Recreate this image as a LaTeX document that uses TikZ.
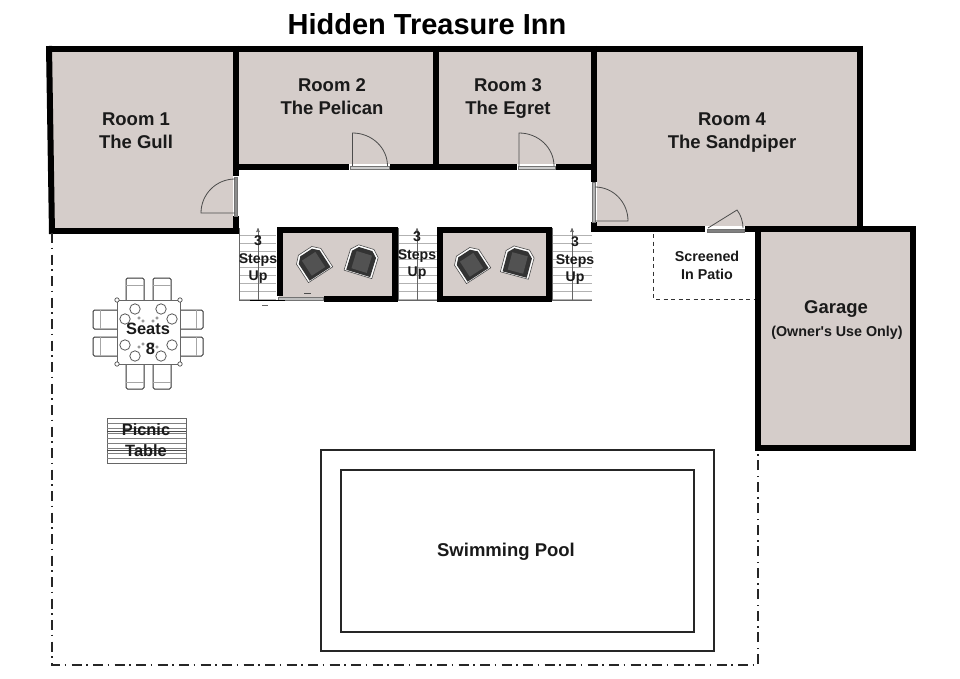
\documentclass[tikz,border=0pt]{standalone}
\usepackage{fontspec}
\setmainfont{Liberation Sans}[Ligatures=TeXOff]
\usetikzlibrary{arrows}
\definecolor{floor}{HTML}{D5CDCA}
\definecolor{ink}{HTML}{1A1A1A}
\tikzset{
    wall/.style={
           draw=black,
           line width=6pt,
           line cap=butt,
           line join=miter
           },
    sill/.style={
           draw=black!55,
           fill=white,
           line width=0.8pt
           },
    swing/.style={
           draw=black!70,
           line width=0.8pt
           },
    tread/.style={
           draw=black!30,
           line width=0.6pt
           },
    boundary/.style={
           draw=black!85,
           line width=1.6pt,
           dash pattern=on 10pt off 4.5pt on 1.5pt off 5.5pt
           },
    patio/.style={
           draw=black!80,
           line width=1pt,
           dash pattern=on 4pt off 3.5pt
           },
    seat/.style={
           draw=black!80,
           fill=white,
           line width=1pt,
           rounded corners=1.5pt
           },
    poolline/.style={
           draw=black!85,
           line width=1.7pt
           },
    titletext/.style={
           text=black,
           inner sep=0pt,
           font=\fontsize{29}{32}\selectfont\bfseries
           },
    roomtext/.style={
           text=ink,
           inner sep=0pt,
           align=center,
           font=\fontsize{18.5}{23}\selectfont\bfseries
           },
    smalltext/.style={
           text=ink,
           inner sep=0pt,
           align=center,
           font=\fontsize{14.3}{18}\selectfont\bfseries
           },
    steptext/.style={
           text=ink,
           inner sep=0pt,
           align=center,
           font=\fontsize{14.1}{17.5}\selectfont\bfseries
           },
    tabletext/.style={
           text=ink,
           inner sep=0pt,
           align=center,
           font=\fontsize{16.4}{20.5}\selectfont\bfseries
           },
    lounge/.pic={
           \draw[fill=white,draw=black!70,line width=0.6pt,line join=round]
             (-14.5,14) -- (-14.5,-8) -- (-8,-14.5) -- (8,-14.5) -- (14.5,-8) -- (14.5,14) -- cycle;
           \fill[black!80,line join=round]
             (-12.5,13) -- (-12.5,-7) -- (-7,-12.5) -- (7,-12.5) -- (12.5,-7) -- (12.5,13) -- cycle;
           \fill[black!68] (-8,-8) rectangle (8,10);
           }
}

\begin{document}
\begin{tikzpicture}[x=1pt,y=-1pt,>=stealth']
\useasboundingbox (0,0) rectangle (960,679);
   % floors
   \fill[floor] (49,49) -- (236,49) -- (236,228) -- (52,228) -- cycle;
   \fill[floor] (236,49) rectangle (594,167);
   \fill[floor] (594,49) rectangle (860,228);
   \fill[floor] (758,229) rectangle (913,448);
   \fill[floor] (279,230) rectangle (395,299);
   \fill[floor] (440,230) rectangle (549,299);

   % steps
   \foreach \sx/\sw/\sm in {239/37/258,398/39/417,552/40/572}{
     \foreach \sy in {235,243,...,299}
       \draw[tread] (\sx,\sy) -- +(\sw,0);
     \draw[draw=black!60,line width=0.7pt] (\sx,228) -- (\sx,300) -- +(\sw,0);
     \draw[draw=black!60,line width=0.6pt,->] (\sm,300) -- (\sm,228);
   }

   % outer walls
   \draw[wall] (46,48.7) -- (863,48.7);
   \draw[wall] (49,46) -- (52,234);
   \draw[wall] (49,231) -- (239,231);
   \draw[wall] (236,46) -- (236,176);
   \draw[wall] (236,216) -- (236,231);
   \draw[wall] (233,167.5) -- (349,167.5);
   \draw[wall] (390,167.5) -- (517,167.5);
   \draw[wall] (556,167.5) -- (597,167.5);
   \draw[wall] (436,46) -- (436,170);
   \draw[wall] (594,46) -- (594,182);
   \draw[wall] (594,222) -- (594,232);
   \draw[wall] (591,229) -- (705,229);
   \draw[wall] (745,229) -- (863,229);
   \draw[wall] (860,46) -- (860,226);

   % garage
   \draw[wall] (758,229) rectangle (913,448);

   % porches
   \draw[wall] (279.5,296) -- (279.5,230) -- (395,230) -- (395,299) -- (324,299);
   \draw[wall] (440,230) rectangle (549,299);

   % door sills
   \fill[white] (233,176) rectangle (239,216);
   \fill[white] (349,164) rectangle (390,171);
   \fill[white] (517,164) rectangle (556,171);
   \fill[white] (591,182) rectangle (597,222);
   \fill[white] (705,226) rectangle (745,232);
   \draw[sill,fill=black!45] (234,177) rectangle (237,216);
   \draw[sill,fill=black!20] (350,166) rectangle (389,169.5);
   \draw[sill,fill=black!20] (518,166) rectangle (555,169.5);
   \draw[sill,fill=black!30] (592,182) rectangle (595,222);
   \draw[sill,fill=black!50] (707,229) rectangle (744,232);
   \draw[sill,fill=black!25] (278,297.5) rectangle (323,300);

   % door swings
   \draw[swing] (235,213) -- (201,213) arc[start angle=180,end angle=90,x radius=34,y radius=-34];
   \draw[swing] (352.5,166) -- (352.5,133) arc[start angle=90,end angle=0,x radius=35,y radius=-33];
   \draw[swing] (519,166) -- (519,133) arc[start angle=90,end angle=0,x radius=35,y radius=-33];
   \draw[swing] (595,221) -- (628,221) arc[start angle=0,end angle=90,x radius=33,y radius=-34];
   \draw[swing] (708,228) -- (737,210) .. controls (741,215) and (743,222) .. (743,228);

   % marks by the first porch
   \draw[draw=black,line width=1pt] (250,300.5) -- (285,300.5);
   \draw[draw=black!70,line width=1pt] (304,293.5) -- (311,293.5);
   \draw[draw=black!60,line width=0.8pt] (262,305) -- (268,305);

   % lounge chairs
   \pic at (313,263) [rotate=33] {lounge};
   \pic at (362,261) [rotate=-17] {lounge};
   \pic at (471,264) [rotate=33] {lounge};
   \pic at (518,262) [rotate=-15] {lounge};

   % patio and lot line
   \draw[patio] (653.5,234) -- (653.5,299) -- (755,299);
   \draw[boundary] (52,233) -- (52,665) -- (758,665) -- (758,452);

   % dining table
   \foreach \cx in {126,153}{
     \draw[seat] (\cx,300) -- (\cx,278) -- +(18,0) -- +(18,22);
     \draw[draw=black!35,line width=0.6pt] (\cx,285) -- +(18,0);
     \draw[seat] (\cx,364) -- (\cx,389) -- +(18,0) -- +(18,-25);
     \draw[draw=black!35,line width=0.6pt] (\cx,382) -- +(18,0);
   }
   \foreach \cy in {310,337}{
     \draw[seat] (117,\cy) -- (93,\cy) -- +(0,19) -- +(24,19);
     \draw[draw=black!35,line width=0.6pt] (100,\cy) -- +(0,19);
     \draw[seat] (180,\cy) -- (203,\cy) -- +(0,19) -- +(-23,19);
     \draw[draw=black!35,line width=0.6pt] (196,\cy) -- +(0,19);
   }
   \draw[draw=black!60,fill=white,line width=1pt] (117,300) rectangle (180,364);
   \foreach \kx/\ky in {117/300,180/300,117/364,180/364}
     \draw[draw=black!70,fill=white,line width=0.7pt] (\kx,\ky) circle (2.2);
   \foreach \px/\py in {135/309,125/319,161/309,172/319,125/345,135/356,161/356,172/345}
     \draw[draw=black!65,fill=white,line width=0.8pt] (\px,\py) circle (5.2);
   \foreach \gx/\gy in {139/318,143/321,157/318,153/321,139/347,143/344,157/347,153/344}
     \draw[draw=black!55,line width=0.5pt] (\gx,\gy) circle (1.3);

   % picnic table
   \draw[draw=black!60,line width=0.8pt] (107,418) rectangle (186,463);
   \foreach \ty in {423,428,...,458}
     \draw[tread,draw=black!50] (107,\ty) -- (186,\ty);
   \draw[draw=black!70,line width=0.9pt] (107,431) -- (186,431);
   \draw[draw=black!70,line width=0.9pt] (107,450) -- (186,450);

   % pool
   \draw[poolline] (321,450) rectangle (714,651);
   \draw[poolline,line width=1.3pt] (341,470) rectangle (694,632);

   % labels
   \node[titletext] (title) at (427,24) {Hidden Treasure Inn};
   \node[roomtext] (room1) at (136,131) {Room 1\\The Gull};
   \node[roomtext] (room2) at (332,97) {Room 2\\The Pelican};
   \node[roomtext] (room3) at (508,98.5) {Room 3\\The Egret};
   \node[roomtext] (room4) at (732,133) {Room 4\\The Sandpiper};
   \node[roomtext] (garage) at (836,308.5) {Garage};
   \node[smalltext] (owner) at (837,333) {(Owner's Use Only)};
   \node[smalltext] (screen) at (707,265) {Screened\\In Patio};
   \node[steptext] (steps1) at (258,260) {3\\Steps\\Up};
   \node[steptext] (steps2) at (417,256) {3\\Steps\\Up};
   \node[steptext] (steps3) at (575,261) {3\\Steps\\Up};
   \node[tabletext] (seats) at (148,339) {Seats\\\hspace*{5pt}8};
   \node[tabletext] (picnic) at (146,440) {Picnic\\Table};
   \node[roomtext] (pool) at (506,551.5) {Swimming Pool};
\end{tikzpicture}
\end{document}
